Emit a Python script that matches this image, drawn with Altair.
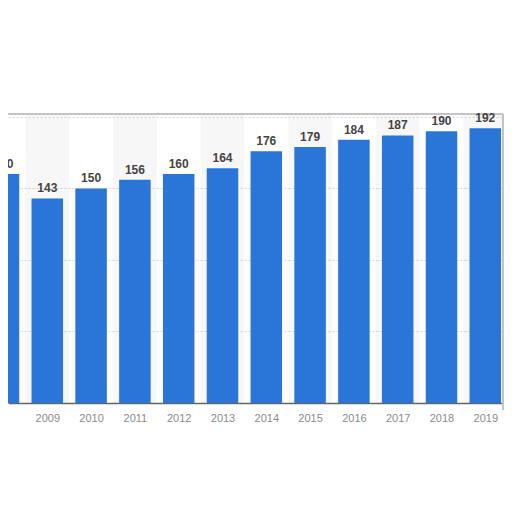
import altair as alt
import pandas as pd

years = [2008, 2009, 2010, 2011, 2012, 2013, 2014, 2015, 2016, 2017, 2018, 2019]
values = [160, 143, 150, 156, 160, 164, 176, 179, 184, 187, 190, 192]

df = pd.DataFrame({"year": years, "value": values})

xscale = alt.Scale(domain=[2008.217, 2019.313], nice=False, zero=False)
yscale = alt.Scale(domain=[0, 202], nice=False)

bands = alt.Chart(df).transform_filter("datum.year % 2 == 1").transform_calculate(
    x0="datum.year - 0.5", x1="datum.year + 0.5"
).mark_rect(color="#000000", opacity=0.03, clip=True).encode(
    x=alt.X("x0:Q", scale=xscale),
    x2="x1:Q",
    y=alt.value(0),
    y2=alt.value(289),
)

bars = alt.Chart(df).mark_bar(color="#2a75d8", size=31.5, clip=True).encode(
    x=alt.X("year:Q", scale=xscale,
            axis=alt.Axis(values=years, format="d", title=None, grid=False, ticks=False,
                          labelOverlap=False, labelFlush=False, labelPadding=9,
                          labelColor="#8a8a8a", labelFontSize=11, labelFont="Liberation Sans",
                          domainColor="#666666", domainWidth=1.5)),
    y=alt.Y("value:Q", scale=yscale,
            axis=alt.Axis(values=[50, 100, 150, 200], title=None, labels=False, ticks=False,
                          domain=False, gridColor="#d6d6d6", gridDash=[2, 2], gridWidth=1)),
)

labels = alt.Chart(df).mark_text(
    dy=-6, baseline="alphabetic", fontWeight="bold", fontSize=12,
    font="Liberation Sans", color="#444444", clip=False
).encode(
    x=alt.X("year:Q", scale=xscale),
    y=alt.Y("value:Q", scale=yscale),
    text=alt.Text("value:Q"),
)

top_rule = alt.Chart(df).mark_rule(color="#c4c4c4", strokeWidth=2).encode(
    x=alt.value(0), x2=alt.value(495), y=alt.value(0)
)
right_rule = alt.Chart(df).mark_rule(color="#c4c4c4", strokeWidth=2).encode(
    x=alt.value(495), y=alt.value(0), y2=alt.value(296)
)

chart = alt.layer(bands, top_rule, right_rule, bars, labels).properties(
    width=496, height=289,
    autosize=alt.AutoSizeParams(type="none"),
    padding={"left": 0, "top": 106, "right": 0, "bottom": 40},
).configure_view(stroke=None)

chart.save("out.html", embed_options={"renderer": "svg", "actions": False})
